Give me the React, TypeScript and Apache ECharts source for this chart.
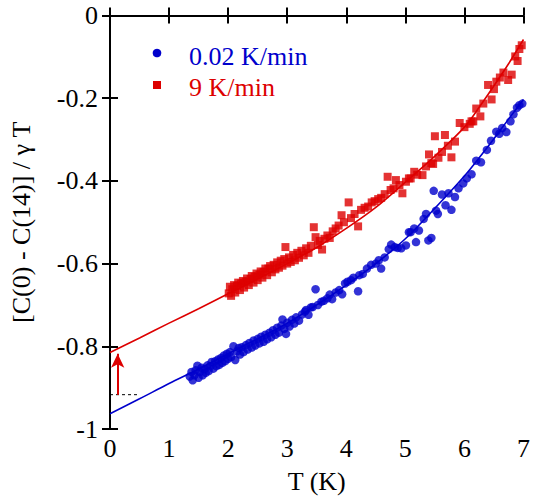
import React, { useEffect, useRef } from "react";
import * as echarts from "echarts";

const xTicks = [0, 1, 2, 3, 4, 5, 6, 7];
const yTicks = [-1, -0.8, -0.6, -0.4, -0.2, 0];

const legendSlow = "0.02 K/min";
const legendFast = "9 K/min";
const xTitle = "T (K)";
const yTitle = "[C(0) - C(14)] / γ T";

// 0.02 K/min data (T, value)
const slowT = [
  1.35, 1.38, 1.40, 1.43, 1.45, 1.48, 1.50, 1.52, 1.55, 1.57, 1.60, 1.62, 1.65, 1.67, 1.70, 1.72, 1.75, 1.78, 1.80, 1.83,
  1.85, 1.88, 1.90, 1.93, 1.95, 1.98, 2.00, 2.03, 2.05, 2.09, 2.12, 2.15, 2.18, 2.20, 2.23, 2.26, 2.30, 2.33, 2.36, 2.40,
  2.43, 2.46, 2.50, 2.53, 2.56, 2.60, 2.63, 2.66, 2.70, 2.73, 2.76, 2.80, 2.83, 2.86, 2.90, 2.92, 2.95, 2.98, 3.00, 3.04,
  3.08, 3.12, 3.15, 3.20, 3.25, 3.30, 3.32, 3.36, 3.40, 3.43, 3.48, 3.52, 3.58, 3.62, 3.68, 3.72, 3.76, 3.82, 3.88, 3.93,
  3.98, 4.02, 4.08, 4.12, 4.20, 4.22, 4.28, 4.35, 4.42, 4.50, 4.55, 4.59, 4.65, 4.72, 4.76, 4.82, 4.87, 4.93, 5.01, 5.06,
  5.09, 5.15, 5.18, 5.23, 5.31, 5.35, 5.39, 5.44, 5.48, 5.52, 5.55, 5.62, 5.68, 5.73, 5.78, 5.84, 5.90, 5.98, 6.04, 6.12,
  6.20, 6.28, 6.38, 6.45, 6.54, 6.59, 6.64, 6.71, 6.78, 6.83, 6.89, 6.93, 6.98,
];
const slowV = [
  -0.873, -0.862, -0.882, -0.870, -0.858, -0.847, -0.876, -0.862, -0.852, -0.870, -0.855, -0.864, -0.846, -0.860, -0.848, -0.838, -0.854, -0.836, -0.848, -0.832,
  -0.845, -0.828, -0.840, -0.822, -0.836, -0.818, -0.830, -0.814, -0.826, -0.800, -0.833, -0.812, -0.804, -0.820, -0.802, -0.814, -0.797, -0.808, -0.792, -0.803,
  -0.786, -0.798, -0.782, -0.793, -0.777, -0.789, -0.772, -0.783, -0.767, -0.778, -0.761, -0.772, -0.755, -0.767, -0.750, -0.735, -0.758, -0.770, -0.743, -0.752,
  -0.736, -0.745, -0.730, -0.738, -0.723, -0.716, -0.712, -0.724, -0.706, -0.705, -0.662, -0.700, -0.692, -0.690, -0.684, -0.675, -0.686, -0.670, -0.664, -0.674,
  -0.648, -0.644, -0.640, -0.634, -0.667, -0.628, -0.625, -0.612, -0.603, -0.600, -0.592, -0.612, -0.585, -0.565, -0.554, -0.560, -0.562, -0.563, -0.556, -0.524,
  -0.524, -0.515, -0.548, -0.520, -0.492, -0.480, -0.544, -0.538, -0.424, -0.472, -0.480, -0.433, -0.459, -0.430, -0.470, -0.439, -0.418, -0.406, -0.394, -0.384,
  -0.351, -0.355, -0.325, -0.303, -0.281, -0.286, -0.272, -0.282, -0.256, -0.239, -0.223, -0.217, -0.213,
];

// 9 K/min data (T, value)
const fastT = [
  2.01, 2.03, 2.05, 2.07, 2.10, 2.12, 2.15, 2.17, 2.20, 2.22, 2.25, 2.27, 2.30, 2.32, 2.35, 2.38, 2.40, 2.43, 2.45, 2.48,
  2.50, 2.53, 2.55, 2.58, 2.60, 2.63, 2.66, 2.68, 2.71, 2.74, 2.77, 2.80, 2.83, 2.86, 2.89, 2.92, 2.95, 2.97, 3.00, 3.03,
  3.06, 3.10, 3.13, 3.17, 3.20, 3.24, 3.28, 3.32, 3.36, 3.40, 3.45, 3.48, 3.52, 3.55, 3.59, 3.63, 3.68, 3.72, 3.77, 3.82,
  3.87, 3.92, 3.96, 4.04, 4.08, 4.14, 4.20, 4.25, 4.31, 4.37, 4.43, 4.48, 4.54, 4.59, 4.65, 4.70, 4.75, 4.80, 4.84, 4.90,
  4.95, 5.01, 5.06, 5.09, 5.15, 5.20, 5.29, 5.35, 5.40, 5.44, 5.47, 5.50, 5.56, 5.62, 5.67, 5.72, 5.78, 5.84, 5.92, 6.00,
  6.09, 6.12, 6.15, 6.20, 6.27, 6.32, 6.40, 6.46, 6.50, 6.54, 6.60, 6.66, 6.74, 6.80, 6.86, 6.90, 6.93, 6.97,
];
const fastV = [
  -0.672, -0.656, -0.678, -0.662, -0.652, -0.670, -0.654, -0.646, -0.664, -0.648, -0.642, -0.658, -0.644, -0.636, -0.652, -0.637, -0.630, -0.646, -0.632, -0.624,
  -0.640, -0.627, -0.619, -0.634, -0.620, -0.612, -0.628, -0.612, -0.606, -0.621, -0.603, -0.614, -0.597, -0.610, -0.593, -0.605, -0.589, -0.560, -0.600, -0.585,
  -0.596, -0.579, -0.592, -0.574, -0.586, -0.569, -0.580, -0.563, -0.574, -0.557, -0.512, -0.536, -0.555, -0.545, -0.566, -0.540, -0.532, -0.538, -0.522, -0.515,
  -0.508, -0.483, -0.500, -0.452, -0.490, -0.480, -0.510, -0.470, -0.465, -0.462, -0.452, -0.449, -0.444, -0.441, -0.432, -0.390, -0.422, -0.418, -0.398, -0.410,
  -0.430, -0.402, -0.394, -0.394, -0.378, -0.385, -0.386, -0.365, -0.336, -0.357, -0.359, -0.292, -0.344, -0.330, -0.289, -0.315, -0.343, -0.305, -0.260, -0.270,
  -0.262, -0.256, -0.256, -0.225, -0.244, -0.213, -0.168, -0.203, -0.178, -0.160, -0.150, -0.138, -0.156, -0.143, -0.099, -0.110, -0.081, -0.072,
];

// fit curves
const slowFitT = [0, 0.5, 1, 1.5, 2, 2.5, 3, 3.5, 4, 4.5, 5, 5.5, 6, 6.25, 6.5, 6.75, 7];
const slowFitV = [-0.963, -0.927, -0.89, -0.855, -0.818, -0.782, -0.744, -0.70, -0.652, -0.60, -0.54, -0.466, -0.388, -0.344, -0.298, -0.25, -0.203];
const fastFitT = [0, 0.5, 1, 1.5, 2, 2.5, 3, 3.5, 4, 4.5, 5, 5.5, 6, 6.25, 6.5, 6.75, 7];
const fastFitV = [-0.815, -0.78, -0.744, -0.709, -0.673, -0.637, -0.60, -0.561, -0.515, -0.464, -0.403, -0.34, -0.27, -0.222, -0.17, -0.116, -0.058];

// offset annotation
const arrowT = 0.13;
const arrowFrom = -0.917;
const arrowTo = -0.818;
const dashT = [0, 0.48];
const dashV = -0.917;

const BLUE = "#0000cc";
const RED = "#dd0000";
const FONT = "'Liberation Serif', 'Times New Roman', Times, serif";
const FS = 26;

const zip = (a: number[], b: number[]) => a.map((v, i) => [v, b[i]]);

export default function App() {
  const ref = useRef<HTMLDivElement>(null);
  useEffect(() => {
    if (!ref.current) return;
    const chart = echarts.init(ref.current, undefined, { renderer: "svg" });
    const axisLine = { show: true, lineStyle: { color: "#000", width: 2 } };
    const axisTick = { show: true, inside: true, length: 8, lineStyle: { color: "#000", width: 2 } };
    chart.setOption({
      animation: false,
      backgroundColor: "#fff",
      grid: { left: 104, right: 9, top: 15.5, bottom: 63, containLabel: false },
      xAxis: [
        {
          type: "value", min: 0, max: 7, interval: 1, position: "bottom",
          axisLine, axisTick, splitLine: { show: false },
          axisLabel: { fontFamily: FONT, fontSize: FS, color: "#000", margin: 6 },
          name: xTitle, nameLocation: "middle", nameGap: 39,
          nameTextStyle: { fontFamily: FONT, fontSize: FS, color: "#000" },
        },
        {
          type: "value", min: 0, max: 7, interval: 1, position: "top",
          axisLine, axisTick, splitLine: { show: false }, axisLabel: { show: false },
        },
      ],
      yAxis: [
        {
          type: "value", min: -1, max: 0, interval: 0.2, position: "left",
          axisLine, axisTick, splitLine: { show: false },
          axisLabel: {
            fontFamily: FONT, fontSize: FS, color: "#000", margin: 12,
            formatter: (v: number) => {
              const r = Math.round(v * 10) / 10;
              if (r === 0) return "0";
              if (r === -1) return "-1";
              return String(r);
            },
          },
          name: yTitle, nameLocation: "middle", nameGap: 76, nameRotate: 90,
          nameTextStyle: { fontFamily: FONT, fontSize: FS, color: "#000" },
        },
        {
          type: "value", min: -1, max: 0, interval: 0.2, position: "right",
          axisLine, axisTick, splitLine: { show: false }, axisLabel: { show: false },
        },
      ],
      series: [
        {
          type: "line", data: zip(slowFitT, slowFitV), smooth: 0.3, showSymbol: false,
          lineStyle: { color: BLUE, width: 1.6 }, silent: true, z: 3,
        },
        {
          type: "line", data: zip(fastFitT, fastFitV), smooth: 0.3, showSymbol: false,
          lineStyle: { color: RED, width: 1.6 }, silent: true, z: 3,
        },
        {
          type: "scatter", data: zip(slowT, slowV), symbol: "circle", symbolSize: 8.5,
          itemStyle: { color: BLUE }, z: 4,
        },
        {
          type: "scatter", data: zip(fastT, fastV), symbol: "rect", symbolSize: 8,
          itemStyle: { color: RED }, z: 4,
        },
        {
          type: "line", data: dashT.map((t) => [t, dashV]), showSymbol: false,
          lineStyle: { color: "#000", width: 1, type: [3, 3] }, silent: true, z: 2,
        },
        {
          type: "line", data: [[arrowT, arrowFrom], [arrowT, arrowTo]], showSymbol: false,
          lineStyle: { color: RED, width: 0 }, silent: true, z: 5,
          markLine: {
            silent: true, animation: false, symbol: ["none", "arrow"], symbolSize: [10, 14],
            label: { show: false },
            lineStyle: { color: RED, width: 2, type: "solid" },
            data: [[{ coord: [arrowT, arrowFrom] }, { coord: [arrowT, arrowTo] }]],
          },
        },
      ],
      graphic: [
        { type: "circle", shape: { cx: 157, cy: 53, r: 4.3 }, style: { fill: BLUE } },
        {
          type: "text", x: 189, y: 56,
          style: { text: legendSlow, fill: BLUE, font: `${FS}px ${FONT}`, verticalAlign: "middle" },
        },
        { type: "rect", shape: { x: 153, y: 81, width: 8, height: 8 }, style: { fill: RED } },
        {
          type: "text", x: 189, y: 87,
          style: { text: legendFast, fill: RED, font: `${FS}px ${FONT}`, verticalAlign: "middle" },
        },
      ],
    });
    return () => chart.dispose();
  }, []);
  return <div ref={ref} style={{ width: 533, height: 499, position: "absolute", left: 0, top: 0 }} />;
}
